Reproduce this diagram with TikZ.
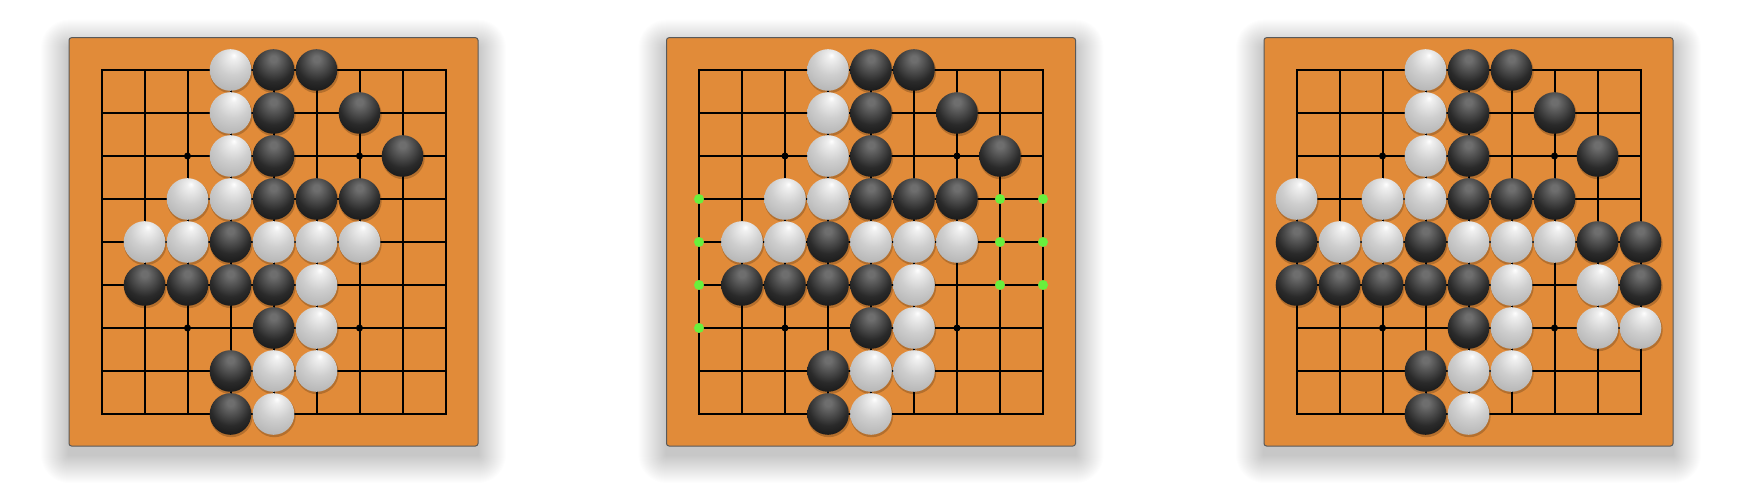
\documentclass[tikz,border=0pt]{standalone}
\definecolor{boardc}{RGB}{225,139,57}
\definecolor{bhi}{RGB}{110,110,110}
\definecolor{bmid}{RGB}{42,42,42}
\definecolor{bedge}{RGB}{4,4,4}
\definecolor{whi}{RGB}{255,255,255}
\definecolor{wa}{RGB}{240,240,240}
\definecolor{wmid}{RGB}{206,206,206}
\definecolor{wb}{RGB}{176,176,176}
\definecolor{wedge}{RGB}{132,132,132}
\definecolor{libg}{RGB}{105,240,60}
\pgfdeclareradialshading{bstoneshade}{\pgfpoint{0bp}{14bp}}{color(0bp)=(bhi); color(4bp)=(bhi); color(24bp)=(bmid); color(48bp)=(bedge); color(85bp)=(bedge)}
\pgfdeclareradialshading{wstoneshade}{\pgfpoint{4bp}{18bp}}{color(0bp)=(whi); color(4bp)=(wa); color(20bp)=(wmid); color(40bp)=(wb); color(60bp)=(wedge); color(85bp)=(wedge)}
\def\blackA{4/0,5/0,4/1,6/1,4/2,7/2,4/3,5/3,6/3,3/4,1/5,2/5,3/5,4/5,4/6,3/7,3/8}
\def\whiteA{3/0,3/1,3/2,2/3,3/3,1/4,2/4,4/4,5/4,6/4,5/5,5/6,4/7,5/7,4/8}
\edef\blackC{\blackA,0/4,7/4,8/4,0/5,8/5}
\edef\whiteC{\whiteA,0/3,7/5,7/6,8/6}
\def\libB{0/3,0/4,0/5,0/6,7/3,8/3,7/4,8/4,7/5,8/5}
\tikzset{
  gridline/.style={line width=2pt,black},
  boardface/.style={fill=boardc,draw=black!65,line width=1pt,rounded corners=2.5pt},
  stoneshadow/.style={fill=black,opacity=0.2},
  libdot/.style={fill=libg}
}
\newcommand\goboardbase{%
  \foreach \k in {1,...,28}
    \fill[black,opacity=0.008,rounded corners=\k pt] ({69-\k},{37.7-\k+10}) rectangle ({478+\k},{446+\k+9});
  \filldraw[boardface] (69,37.7) rectangle (478,446);
  \foreach \i in {1,...,7} {
    \draw[gridline] ({101.5+43*\i},70) -- ({101.5+43*\i},414);
    \draw[gridline] (101.5,{70+43*\i}) -- (445.5,{70+43*\i});
  }
  \draw[gridline] (101.5,70) rectangle (445.5,414);
  \foreach \c/\r in {2/2,6/2,2/6,6/6}
    \fill ({101.5+43*\c},{70+43*\r}) circle (3.5pt);
}
\newcommand\gostones[2]{%
  \foreach \c/\r in #1
    \fill[stoneshadow] ({101.5+43*\c+0.8},{70+43*\r+1.8}) circle (21.4pt);
  \foreach \c/\r in #2
    \fill[stoneshadow] ({101.5+43*\c+0.8},{70+43*\r+1.8}) circle (21.4pt);
  \foreach \c/\r in #1
    \shade[shading=bstoneshade] ({101.5+43*\c},{70+43*\r}) circle (20.8pt);
  \foreach \c/\r in #2
    \shade[shading=wstoneshade] ({101.5+43*\c},{70+43*\r}) circle (20.8pt);
}
\begin{document}
\begin{tikzpicture}[x=1pt,y=-1pt]
\useasboundingbox (0,0) rectangle (1742,502);
% board 1
\begin{scope}
  \goboardbase
  \gostones{\blackA}{\whiteA}
\end{scope}
% board 2
\begin{scope}[xshift=597.5pt]
  \goboardbase
  \gostones{\blackA}{\whiteA}
  \foreach \c/\r in \libB
    \fill[libdot] ({101.5+43*\c},{70+43*\r}) circle (5pt);
\end{scope}
% board 3
\begin{scope}[xshift=1195pt]
  \goboardbase
  \gostones{\blackC}{\whiteC}
\end{scope}
\end{tikzpicture}
\end{document}
